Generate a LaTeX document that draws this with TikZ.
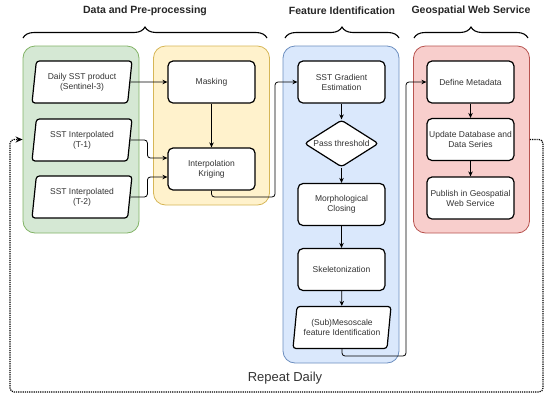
\documentclass[tikz,border=0pt]{standalone}
\usepackage{fontspec}
\setmainfont{Liberation Sans}
\usetikzlibrary{shapes.geometric,arrows.meta,decorations.pathreplacing}
\definecolor{grnF}{HTML}{D5E8D4}\definecolor{grnD}{HTML}{82B366}
\definecolor{ylwF}{HTML}{FFF2CC}\definecolor{ylwD}{HTML}{D6B656}
\definecolor{bluF}{HTML}{DAE8FC}\definecolor{bluD}{HTML}{6C8EBF}
\definecolor{redF}{HTML}{F8CECC}\definecolor{redD}{HTML}{B85450}
\begin{document}
\begin{tikzpicture}[x=1pt,y=-1pt,
    grp/.style={draw,rounded corners=12pt,line width=0.8pt,minimum width=116pt},
    proc/.style={draw,rounded corners=5pt,line width=1.2pt,fill=white,
      minimum width=87pt,minimum height=42pt,align=center,inner sep=0.5pt,
      font=\fontsize{8.5}{10}\selectfont,text=black!80},
    data/.style={proc,rounded corners=3pt,trapezium,trapezium left angle=77,
      trapezium right angle=103,trapezium stretches body,minimum width=100pt},
    test/.style={proc,rounded corners=3pt,diamond,aspect=2,inner sep=0pt,
      minimum width=74pt,minimum height=47pt},
    flow/.style={-{Stealth[length=5pt,width=4.5pt]},line width=0.8pt,rounded corners=3pt},
    rep/.style={-{Stealth[length=7pt,width=6pt]},line width=1.2pt,densely dotted,rounded corners=4pt},
    brc/.style={decorate,decoration={brace,amplitude=11pt},line width=1.1pt},
    ttl/.style={font=\fontsize{10.5}{12}\selectfont\bfseries,text=black!85}]
  \useasboundingbox (0,0) rectangle (550,400);
  % titles and braces
  \node[ttl] (tData) at (145,11) {Data and Pre-processing};
  \node[ttl] (tFeat) at (342,11) {Feature Identification};
  \node[ttl] (tWeb) at (471,11) {Geospatial Web Service};
  \draw[brc] (23,38) -- (267,38);
  \draw[brc] (285,38) -- (399,38);
  \draw[brc] (414,38) -- (528,38);
  % the four coloured groups
  \node[grp,fill=grnF,draw=grnD,minimum height=187pt] (gData) at (81,139.5) {};
  \node[grp,fill=ylwF,draw=ylwD,minimum height=159pt] (gPre) at (211.5,125.5) {};
  \node[grp,fill=bluF,draw=bluD,minimum height=317pt] (gFeat) at (341,204.5) {};
  \node[grp,fill=redF,draw=redD,minimum height=187pt] (gWeb) at (471.5,139.5) {};
  % data and pre-processing
  \node[data] (daily) at (82,82) {Daily SST product\\(Sentinel-3)};
  \node[data] (t1) at (82,140) {SST Interpolated\\(T-1)};
  \node[data] (t2) at (82,197) {SST Interpolated\\(T-2)};
  \node[proc] (mask) at (211.5,82) {Masking};
  \node[proc] (krig) at (211.5,169) {Interpolation\\Kriging};
  % feature identification
  \node[proc] (grad) at (341.5,82) {SST Gradient\\Estimation};
  \node[test] (thr) at (341.5,143.5) {Pass threshold};
  \node[proc] (morph) at (341.5,204.5) {Morphological\\Closing};
  \node[proc] (skel) at (341.5,269.5) {Skeletonization};
  \node[data,minimum width=98pt] (sub) at (342,327.5) {(Sub)Mesoscale\\feature Identification};
  % web service
  \node[proc] (meta) at (470.5,82) {Define Metadata};
  \node[proc] (upd) at (470.5,139.5) {Update Database and\\Data Series};
  \node[proc] (pub) at (470.5,198) {Publish in Geospatial\\Web Service};
  % connectors
  \coordinate (c1) at (275,197);
  \coordinate (c2) at (406,356);
  \draw[flow] (daily) -- (mask);
  \draw[flow] (mask) -- (krig);
  \draw[flow] (t1.east) -- ++(17,0) |- ([yshift=11pt]krig.west);
  \draw[flow] (t2.east) -- ++(17,0) |- ([yshift=-8pt]krig.west);
  \draw[flow] (krig.south) |- (c1) |- (grad.west);
  \draw[flow] (grad) -- (thr);
  \draw[flow] (thr) -- (morph);
  \draw[flow] (morph) -- (skel);
  \draw[flow] (skel) -- (sub);
  \draw[flow] (sub.south) |- (c2) |- (meta.west);
  \draw[flow] (meta) -- (upd);
  \draw[flow] (upd) -- (pub);
  % the daily loop
  \coordinate (r1) at (543,392);
  \coordinate (l1) at (10,392);
  \draw[rep] (gWeb.east) -| (r1) -- (l1) |- (gData.west);
  \node[font=\fontsize{13}{15}\selectfont,text=black!80] (rpt) at (285,378) {Repeat Daily};
\end{tikzpicture}
\end{document}
